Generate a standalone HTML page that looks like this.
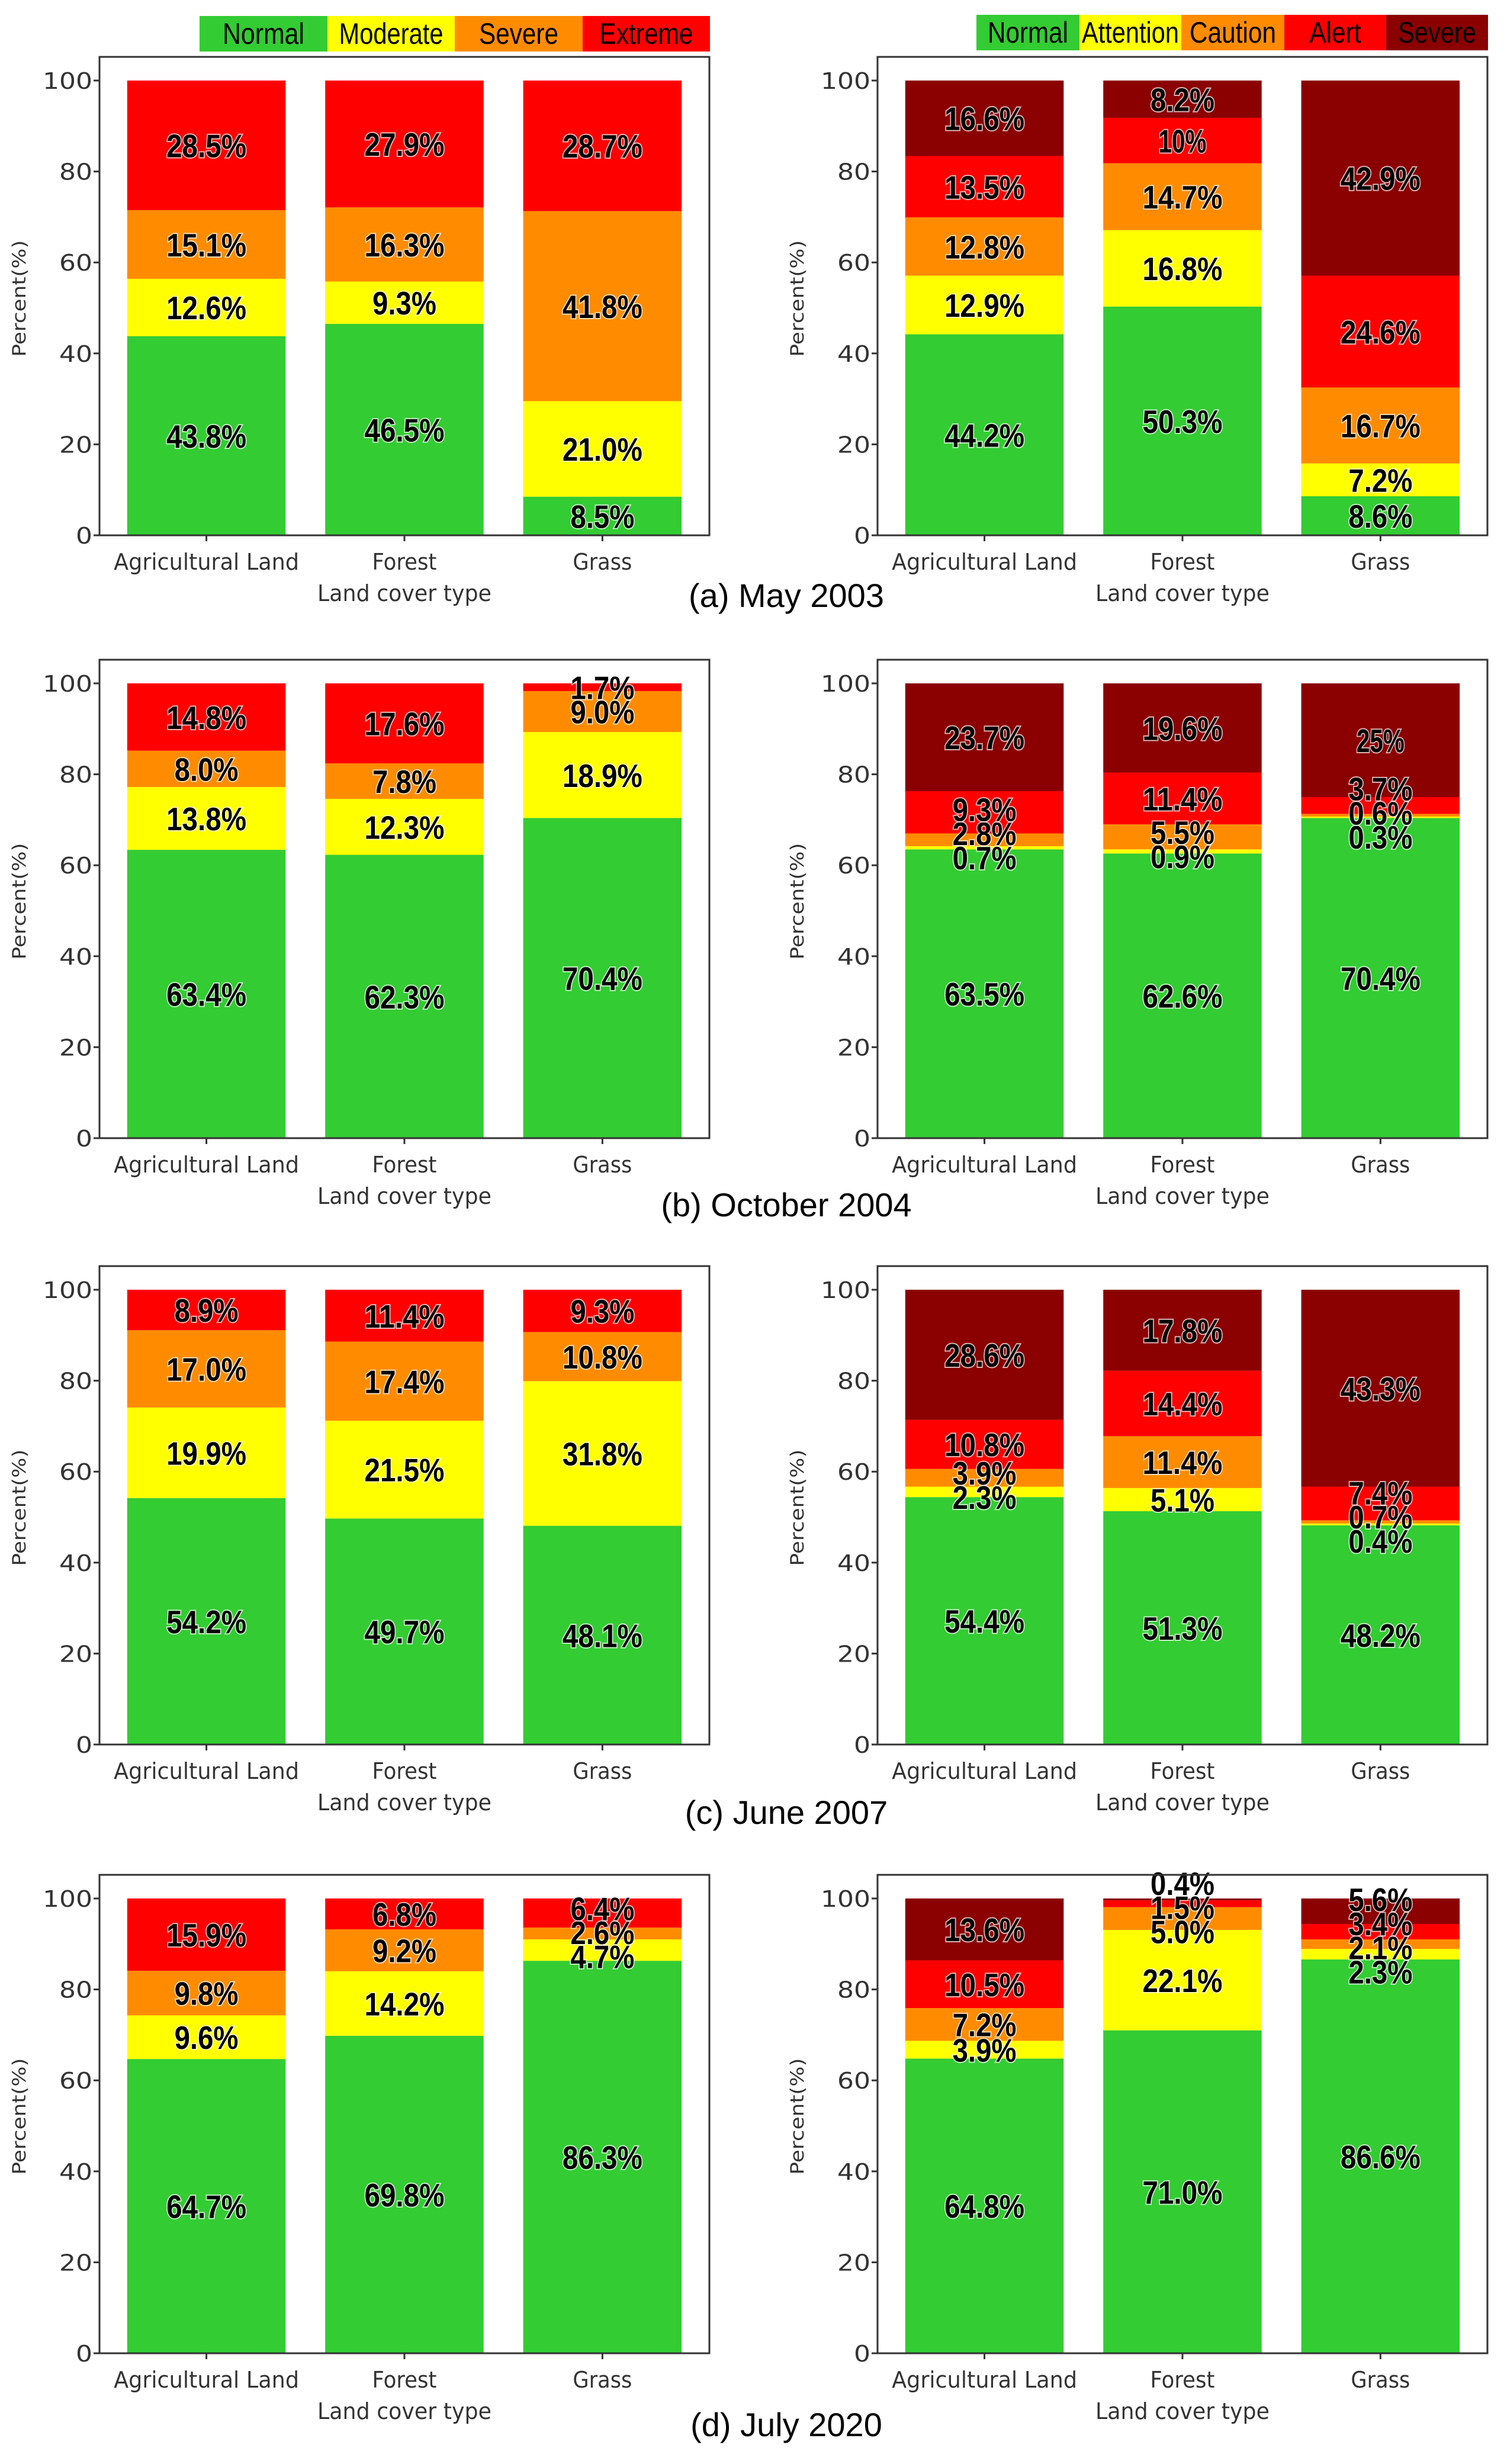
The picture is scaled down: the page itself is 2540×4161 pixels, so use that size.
<!DOCTYPE html>
<html><head><meta charset="utf-8"><style>
html,body{margin:0;padding:0;background:#fff;}
svg{display:block;}
</style></head><body>
<svg id="fig" width="2540" height="4161" viewBox="0 0 2540 4161" xmlns="http://www.w3.org/2000/svg"></svg>
<script>
const categories = ["Agricultural Land","Forest","Grass"];
const leftClasses = ["Normal","Moderate","Severe","Extreme"];
const rightClasses = ["Normal","Attention","Caution","Alert","Severe"];
const leftColors = ["#33cc33","#ffff00","#ff8c00","#ff0000"];
const rightColors = ["#33cc33","#ffff00","#ff8c00","#ff0000","#8b0000"];
const yTicks = [0,20,40,60,80,100];
const captions = ["(a) May 2003","(b) October 2004","(c) June 2007","(d) July 2020"];

// values per panel: [category][class], bottom-up
const aLeft = [[43.8,12.6,15.1,28.5],[46.5,9.3,16.3,27.9],[8.5,21.0,41.8,28.7]];
const aRight = [[44.2,12.9,12.8,13.5,16.6],[50.3,16.8,14.7,10,8.2],[8.6,7.2,16.7,24.6,42.9]];
const bLeft = [[63.4,13.8,8.0,14.8],[62.3,12.3,7.8,17.6],[70.4,18.9,9.0,1.7]];
const bRight = [[63.5,0.7,2.8,9.3,23.7],[62.6,0.9,5.5,11.4,19.6],[70.4,0.3,0.6,3.7,25]];
const cLeft = [[54.2,19.9,17.0,8.9],[49.7,21.5,17.4,11.4],[48.1,31.8,10.8,9.3]];
const cRight = [[54.4,2.3,3.9,10.8,28.6],[51.3,5.1,11.4,14.4,17.8],[48.2,0.4,0.7,7.4,43.3]];
const dLeft = [[64.7,9.6,9.8,15.9],[69.8,14.2,9.2,6.8],[86.3,4.7,2.6,6.4]];
const dRight = [[64.8,3.9,7.2,10.5,13.6],[71.0,22.1,5.0,1.5,0.4],[86.6,2.3,2.1,3.4,5.6]];
const intLabels = [10,25]; // printed without decimal

const NS = "http://www.w3.org/2000/svg";
const svg = document.getElementById('fig');
function mk(tag, attrs, parent){
  const e = document.createElementNS(NS, tag);
  for (const k in attrs) e.setAttribute(k, attrs[k]);
  (parent||svg).appendChild(e);
  return e;
}
function fmt(v){ return intLabels.includes(v) ? String(v)+"%" : v.toFixed(1)+"%"; }

const zeros = [904,1922,2946,3974];
const capOff = [101,112,114,120];
const PXU = 7.68;
const UNIT = 334.4;

function drawPanel(data, colors, x0, zero, pname){
  const g = mk('g', {});
  
  
  const x1 = x0 + 1030;
  const top = zero - 105.2*PXU;
  const ys = v => zero - v*PXU;
  const xs = i => x0 + (i + 0.54)*UNIT;
  data.forEach((vals, ci) => {
    let cum = 0;
    const centers = [];
    vals.forEach((v, k) => {
      const r = mk('rect', {x: xs(ci)-0.4*UNIT, y: ys(cum+v), width: 0.8*UNIT, height: v*PXU, fill: colors[k]}, g);
      
      
      centers.push(cum + v/2);
      cum += v;
    });
    const pos = centers.slice();
    const gap = 5.3;
    for (let it=0; it<100; it++){
      for (let k=0; k<pos.length-1; k++){
        const d = pos[k+1]-pos[k];
        if (d < gap){ const s=(gap-d)/2; pos[k]-=s; pos[k+1]+=s; }
      }
    }
    vals.forEach((v, k) => {
      const s = fmt(v);
      const t = mk('text', {x: xs(ci), y: ys(pos[k]) + 20, 'text-anchor':'middle',
        'font-family':'"Liberation Sans", sans-serif', 'font-weight':'bold', 'font-size':55,
        fill:'#000', stroke:'rgba(255,255,255,0.7)', 'stroke-width':4, 'paint-order':'stroke',
        textLength: 27*s.length, lengthAdjust:'spacingAndGlyphs'}, g);
      t.textContent = s;
      
      
    });
    mk('line', {x1: xs(ci), x2: xs(ci), y1: zero, y2: zero+10, stroke:'#333', 'stroke-width':3}, g);
    const lw = [313,109,100][ci];
    const tl = mk('text', {x: xs(ci), y: zero+58, 'text-anchor':'middle', 'font-family':'"DejaVu Sans", sans-serif',
      'font-size':38, fill:'#333', textLength: lw, lengthAdjust:'spacingAndGlyphs'}, g);
    tl.textContent = categories[ci];
    
    
  });
  const fr = mk('rect', {x: x0, y: top, width: x1-x0, height: zero-top, fill:'none', stroke:'#333', 'stroke-width':3}, g);
  
  
  yTicks.forEach(t => {
    mk('line', {x1: x0-10, x2: x0, y1: ys(t), y2: ys(t), stroke:'#333', 'stroke-width':3}, g);
    const s = String(t);
    const tt = mk('text', {x: x0-12, y: ys(t)+14, 'text-anchor':'end', 'font-family':'"DejaVu Sans", sans-serif',
      'font-size':38, fill:'#333', textLength: 28*s.length, lengthAdjust:'spacingAndGlyphs'}, g);
    tt.textContent = s;
    
    
  });
  const yl = mk('text', {x: 0, y: 0, 'text-anchor':'middle', 'font-family':'"DejaVu Sans", sans-serif', 'font-size':31,
    fill:'#333', textLength:197, lengthAdjust:'spacingAndGlyphs',
    transform:`translate(${x0-125},${zero-400}) rotate(-90)`}, g);
  yl.textContent = 'Percent(%)';
  
  
  const xl = mk('text', {x: x0+515, y: zero+111, 'text-anchor':'middle', 'font-family':'"DejaVu Sans", sans-serif',
    'font-size':38, fill:'#333', textLength:294, lengthAdjust:'spacingAndGlyphs'}, g);
  xl.textContent = 'Land cover type';
  
  
}

const panels = [[aLeft,aRight],[bLeft,bRight],[cLeft,cRight],[dLeft,dRight]];
panels.forEach((p, r) => {
  drawPanel(p[0], leftColors, 168, zeros[r], 'spi-chart-'+r);
  drawPanel(p[1], rightColors, 1482, zeros[r], 'drought-index-chart-'+r);
  const c = mk('text', {x: 1328, y: zeros[r]+capOff[r]+20, 'text-anchor':'middle', 'font-family':'"Liberation Sans", sans-serif',
    'font-size':56, fill:'#000'});
  c.textContent = captions[r];
  
  
});

const leftEdges = [337,553,768,984,1199];
const leftTW = [138,176,134,158];
leftClasses.forEach((n,i) => {
  const r = mk('rect', {x: leftEdges[i], y: 27, width: leftEdges[i+1]-leftEdges[i], height: 60, fill: leftColors[i]});
  
  
  const t = mk('text', {x: (leftEdges[i]+leftEdges[i+1])/2, y: 74, 'text-anchor':'middle', 'font-family':'"Liberation Sans", sans-serif',
    'font-size':50, fill:'#000', textLength: leftTW[i], lengthAdjust:'spacingAndGlyphs'});
  t.textContent = n;
  
  
});
const rightEdges = [1649,1823,1995,2169,2341,2513];
const rightTW = [136,164,146,87,132];
rightClasses.forEach((n,i) => {
  const r = mk('rect', {x: rightEdges[i], y: 25, width: rightEdges[i+1]-rightEdges[i], height: 60, fill: rightColors[i]});
  
  
  const t = mk('text', {x: (rightEdges[i]+rightEdges[i+1])/2, y: 72, 'text-anchor':'middle', 'font-family':'"Liberation Sans", sans-serif',
    'font-size':50, fill:'#000', textLength: rightTW[i], lengthAdjust:'spacingAndGlyphs'});
  t.textContent = n;
  
  
});
</script>
</body></html>
